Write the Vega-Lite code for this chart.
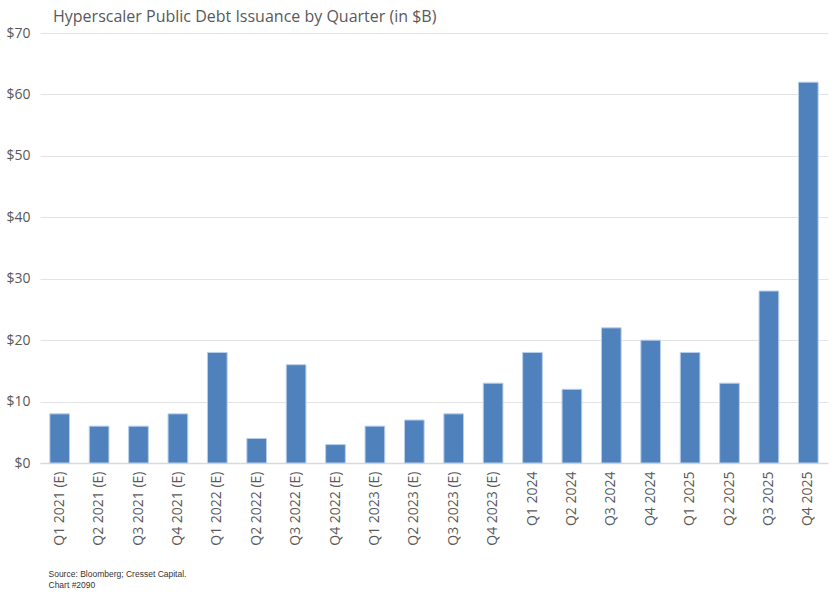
{
  "$schema": "https://vega.github.io/schema/vega-lite/v6.json",
  "autosize": {"type": "none"},
  "width": 788,
  "height": 430,
  "padding": {"left": 40, "top": 33, "right": 7, "bottom": 143},
  "background": "white",
  "title": {
    "text": "Hyperscaler Public Debt Issuance by Quarter (in $B)",
    "anchor": "start",
    "frame": "group",
    "dx": 13,
    "offset": 1,
    "font": "Open Sans",
    "fontSize": 16,
    "fontWeight": "normal",
    "color": "#595959"
  },
  "data": {
    "values": [
      {"Quarter": "Q1 2021 (E)", "Issuance": 8},
      {"Quarter": "Q2 2021 (E)", "Issuance": 6},
      {"Quarter": "Q3 2021 (E)", "Issuance": 6},
      {"Quarter": "Q4 2021 (E)", "Issuance": 8},
      {"Quarter": "Q1 2022 (E)", "Issuance": 18},
      {"Quarter": "Q2 2022 (E)", "Issuance": 4},
      {"Quarter": "Q3 2022 (E)", "Issuance": 16},
      {"Quarter": "Q4 2022 (E)", "Issuance": 3},
      {"Quarter": "Q1 2023 (E)", "Issuance": 6},
      {"Quarter": "Q2 2023 (E)", "Issuance": 7},
      {"Quarter": "Q3 2023 (E)", "Issuance": 8},
      {"Quarter": "Q4 2023 (E)", "Issuance": 13},
      {"Quarter": "Q1 2024", "Issuance": 18},
      {"Quarter": "Q2 2024", "Issuance": 12},
      {"Quarter": "Q3 2024", "Issuance": 22},
      {"Quarter": "Q4 2024", "Issuance": 20},
      {"Quarter": "Q1 2025", "Issuance": 18},
      {"Quarter": "Q2 2025", "Issuance": 13},
      {"Quarter": "Q3 2025", "Issuance": 28},
      {"Quarter": "Q4 2025", "Issuance": 62}
    ]
  },
  "mark": {"type": "bar", "color": "#4f81bd", "stroke": "#b9cfe9", "strokeWidth": 1},
  "encoding": {
    "x": {
      "field": "Quarter",
      "type": "nominal",
      "sort": null,
      "scale": {"paddingInner": 0.5, "paddingOuter": 0.25},
      "axis": {
        "title": ["Source: Bloomberg; Cresset Capital.", "Chart #2090"],
        "titleX": 8,
        "titleY": 106,
        "titleAnchor": "start",
        "titleAlign": "left",
        "titleBaseline": "top",
        "titleFont": "Liberation Sans",
        "titleFontSize": 8.5,
        "titleFontWeight": "normal",
        "titleColor": "#333333",
        "titleLineHeight": 11,
        "labelAngle": 270,
        "labelAlign": "right",
        "labelBaseline": "middle",
        "labelPadding": 8,
        "labelFont": "Open Sans",
        "labelFontSize": 14,
        "labelColor": "#595959",
        "ticks": false,
        "domainColor": "#d9d9d9",
        "domainWidth": 1.5
      }
    },
    "y": {
      "field": "Issuance",
      "type": "quantitative",
      "scale": {"domain": [0, 70]},
      "axis": {
        "title": null,
        "values": [0, 10, 20, 30, 40, 50, 60, 70],
        "labelExpr": "'$' + datum.value",
        "labelFont": "Open Sans",
        "labelFontSize": 14,
        "labelColor": "#595959",
        "labelPadding": 10,
        "ticks": false,
        "domain": false,
        "gridColor": "#e3e3e3",
        "gridWidth": 1
      }
    }
  },
  "config": {"view": {"stroke": null}}
}
